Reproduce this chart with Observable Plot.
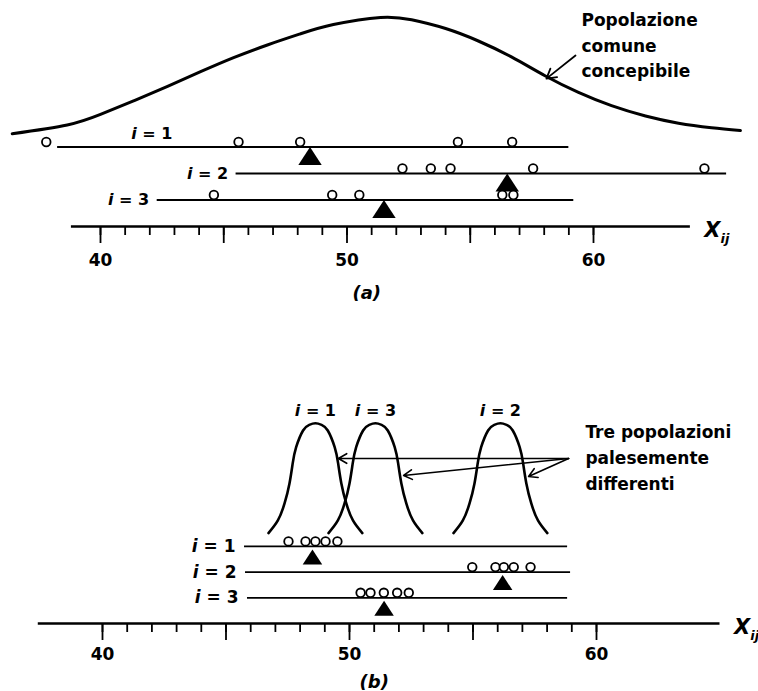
<!DOCTYPE html>
<html>
<head>
<meta charset="utf-8">
<script src="https://cdn.jsdelivr.net/npm/d3@7"></script>
<script src="https://cdn.jsdelivr.net/npm/@observablehq/plot@0.6"></script>
<style>
  body { margin: 0; background: #fff; }
  #chart { width: 758px; }
  #chart svg { display: block; }
</style>
</head>
<body>
<div id="chart"></div>
<script>
// ---------------- data ----------------
const rowLabels = ["i = 1", "i = 2", "i = 3"];
const tickValues = d3.range(40, 61);
const majorTicks = [40, 45, 50, 55, 60];
const tickLabels = [40, 50, 60];
const axisTitle = "Xij";

// Panel (a): common conceivable population
const curveAX = [36.42, 38.65, 40.0, 41.34, 42.72, 44.06, 45.40, 46.77, 48.11, 49.45, 51.36,
                 52.62, 54.00, 55.33, 56.67, 58.05, 59.39, 60.73, 62.11, 63.45, 64.79, 65.96];
const curveAY = [3.50, 3.83, 4.23, 4.74, 5.29, 5.84, 6.37, 6.85, 7.27, 7.62, 7.89,
                 7.80, 7.47, 7.00, 6.40, 5.68, 5.06, 4.56, 4.17, 3.90, 3.73, 3.62];
const obsA1 = [37.8, 45.6, 48.1, 54.5, 56.7];
const obsA2 = [52.25, 53.4, 54.2, 57.55, 64.5];
const obsA3 = [44.6, 49.4, 50.5, 56.3, 56.75];
const meansA = [48.5, 56.5, 51.5];
const lineStartA = [38.26, 45.5, 42.3];
const lineEndA = [59.0, 65.4, 59.2];
const axisExtentA = [38.82, 63.93];
const noteA = ["Popolazione", "comune", "concepibile"];
const panelLabelA = "(a)";

// Panel (b): three clearly different populations
const bellCentersB = [48.62, 56.11, 51.05];
const bellDX = [-1.9, -1.52, -1.25, -1.05, -0.92, -0.78, -0.5, -0.25, 0, 0.25, 0.5, 0.78, 0.92, 1.05, 1.25, 1.52, 1.9];
const bellH  = [3.52, 4.01, 4.67, 5.45, 6.23, 6.86, 7.51, 7.73, 7.79, 7.73, 7.51, 6.86, 6.23, 5.45, 4.67, 4.01, 3.52];
const obsB1 = [47.53, 48.22, 48.62, 49.03, 49.51];
const obsB2 = [54.97, 55.91, 56.25, 56.65, 57.33];
const obsB3 = [50.45, 50.85, 51.39, 51.93, 52.40];
const meansB = [48.5, 56.2, 51.4];
const lineStartB = [45.75, 45.79, 45.87];
const lineEndB = [58.83, 58.95, 58.83];
const axisExtentB = [37.4, 65.0];
const noteB = ["Tre popolazioni", "palesemente", "differenti"];
const panelLabelB = "(b)";

// ---------------- helpers ----------------
const FONT = "DejaVu Sans";
const apexTriangle = {
  draw(context, size) {
    const r = Math.sqrt(size / Math.PI);
    const w = 1.3 * r, h = 2 * r;
    context.moveTo(0, 0);
    context.lineTo(w, h);
    context.lineTo(-w, h);
    context.closePath();
  }
};

function rowsOf(starts, ends, means) {
  return rowLabels.map((label, k) => ({label, level: rowLabels.length - k, start: starts[k], end: ends[k], mean: means[k]}));
}
function dotsOf(lists) {
  return lists.flatMap((arr, k) => arr.map(x => ({x, level: rowLabels.length - k})));
}
function axisMarks(extent, labelPad) {
  return [
    Plot.ruleY([0], {x1: extent[0], x2: extent[1], strokeWidth: 2.6}),
    Plot.axisX(tickValues, {anchor: "bottom", tickSize: 9, strokeWidth: 1.8, tickFormat: () => "", label: null}),
    Plot.axisX(majorTicks, {anchor: "bottom", tickSize: 17, strokeWidth: 1.8, tickFormat: () => "", label: null}),
    Plot.axisX(tickLabels, {anchor: "bottom", tickSize: 0, tickPadding: labelPad, fontSize: 17, fontWeight: "bold", label: null}),
    Plot.text([axisTitle], {x: extent[1], y: 0, text: d => d, dx: 14, dy: 4, textAnchor: "start", fontSize: 21, fontWeight: "bold"})
  ];
}
function restyle(svg) {
  const ns = "http://www.w3.org/2000/svg";
  d3.select(svg).selectAll("text").each(function () {
    const t = this.textContent;
    const m = t.match(/^i = (\d)$/);
    if (m) {
      this.textContent = "";
      const a = document.createElementNS(ns, "tspan");
      a.setAttribute("font-style", "italic");
      a.textContent = "i";
      this.appendChild(a);
      this.appendChild(document.createTextNode(" = " + m[1]));
    } else if (t === axisTitle) {
      this.textContent = "";
      const a = document.createElementNS(ns, "tspan");
      a.setAttribute("font-style", "italic");
      a.textContent = "X";
      const b = document.createElementNS(ns, "tspan");
      b.setAttribute("font-style", "italic");
      b.setAttribute("font-size", "13");
      b.setAttribute("dy", "6");
      b.textContent = "ij";
      this.appendChild(a);
      this.appendChild(b);
    }
  });
  return svg;
}

// ---------------- panel (a) ----------------
const rowsA = rowsOf(lineStartA, lineEndA, meansA);
const dotsA = dotsOf([obsA1, obsA2, obsA3]);
const curveA = curveAX.map((x, j) => ({x, y: curveAY[j]}));
const labelA1 = [{label: rowsA[0].label, x: 42.92, y: 3.51}];

const plotA = Plot.plot({
  width: 758, height: 310,
  marginLeft: 100, marginRight: 165, marginTop: 14, marginBottom: 84,
  x: {domain: [40, 60]},
  y: {domain: [0, 8], axis: null},
  style: {fontFamily: FONT, background: "white", overflow: "visible"},
  marks: [
    Plot.line(curveA, {x: "x", y: "y", curve: "natural", strokeWidth: 3, stroke: "black"}),
    Plot.arrow([{x1: 59.27, y1: 6.45, x2: 58.09, y2: 5.58}], {x1: "x1", y1: "y1", x2: "x2", y2: "y2", strokeWidth: 1.8, headLength: 9}),
    Plot.text([noteA.join("\n")], {x: 59.51, y: 6.9, text: d => d, textAnchor: "start", lineAnchor: "middle", lineHeight: 1.5, fontSize: 17, fontWeight: "bold"}),
    Plot.ruleY(rowsA, {y: "level", x1: "start", x2: "end", strokeWidth: 1.8}),
    Plot.dot(rowsA, {x: "mean", y: "level", symbol: apexTriangle, r: 9, fill: "black", stroke: "none"}),
    Plot.dot(dotsA, {x: "x", y: "level", r: 4.3, fill: "white", stroke: "black", strokeWidth: 1.8, dy: -5}),
    Plot.text(labelA1, {x: "x", y: "y", text: "label", textAnchor: "end", fontSize: 16, fontWeight: "bold"}),
    Plot.text(rowsA.slice(1), {x: "start", y: "level", text: "label", dx: -8, textAnchor: "end", fontSize: 16, fontWeight: "bold"}),
    ...axisMarks(axisExtentA, 27),
    Plot.text([panelLabelA], {x: 50.8, y: -2.53, text: d => d, fontSize: 18, fontWeight: "bold", fontStyle: "italic"})
  ]
});
document.getElementById("chart").appendChild(restyle(plotA));

// ---------------- panel (b) ----------------
const rowsB = rowsOf(lineStartB, lineEndB, meansB);
const dotsB = dotsOf([obsB1, obsB2, obsB3]);
const bells = bellCentersB.flatMap((c, k) => bellDX.map((dx, j) => ({x: c + dx, y: bellH[j], bell: rowLabels[k]})));
const bellLabels = bellCentersB.map((c, k) => ({x: c, label: rowLabels[k]}));
const arrowsB = [
  {x1: 58.87, y1: 6.42, x2: 49.55, y2: 6.42},
  {x1: 58.87, y1: 6.42, x2: 52.19, y2: 5.76},
  {x1: 58.87, y1: 6.42, x2: 57.25, y2: 5.72}
];

const plotB = Plot.plot({
  width: 758, height: 381,
  marginLeft: 102, marginRight: 162, marginTop: 107.4, marginBottom: 68,
  x: {domain: [40, 60]},
  y: {domain: [0, 8], axis: null},
  style: {fontFamily: FONT, background: "white", overflow: "visible"},
  marks: [
    Plot.line(bells, {x: "x", y: "y", z: "bell", curve: "natural", strokeWidth: 2.6, stroke: "black"}),
    Plot.text(bellLabels, {x: "x", y: 8.29, text: "label", fontSize: 16, fontWeight: "bold"}),
    Plot.arrow(arrowsB, {x1: "x1", y1: "y1", x2: "x2", y2: "y2", strokeWidth: 1.6, headLength: 9}),
    Plot.text([noteB.join("\n")], {x: 59.55, y: 6.54, text: d => d, textAnchor: "start", lineAnchor: "middle", lineHeight: 1.53, fontSize: 17, fontWeight: "bold"}),
    Plot.ruleY(rowsB, {y: "level", x1: "start", x2: "end", strokeWidth: 1.8}),
    Plot.dot(rowsB, {x: "mean", y: "level", symbol: apexTriangle, r: 7.5, fill: "black", stroke: "none", dy: 3}),
    Plot.dot(dotsB, {x: "x", y: "level", r: 4.3, fill: "white", stroke: "black", strokeWidth: 1.8, dy: -5}),
    Plot.text(rowsB, {x: "start", y: "level", text: "label", dx: -9, textAnchor: "end", fontSize: 17, fontWeight: "bold"}),
    ...axisMarks(axisExtentB, 24),
    Plot.text([panelLabelB], {x: 51.0, y: -2.3, text: d => d, fontSize: 18, fontWeight: "bold", fontStyle: "italic"})
  ]
});
document.getElementById("chart").appendChild(restyle(plotB));
</script>
</body>
</html>
